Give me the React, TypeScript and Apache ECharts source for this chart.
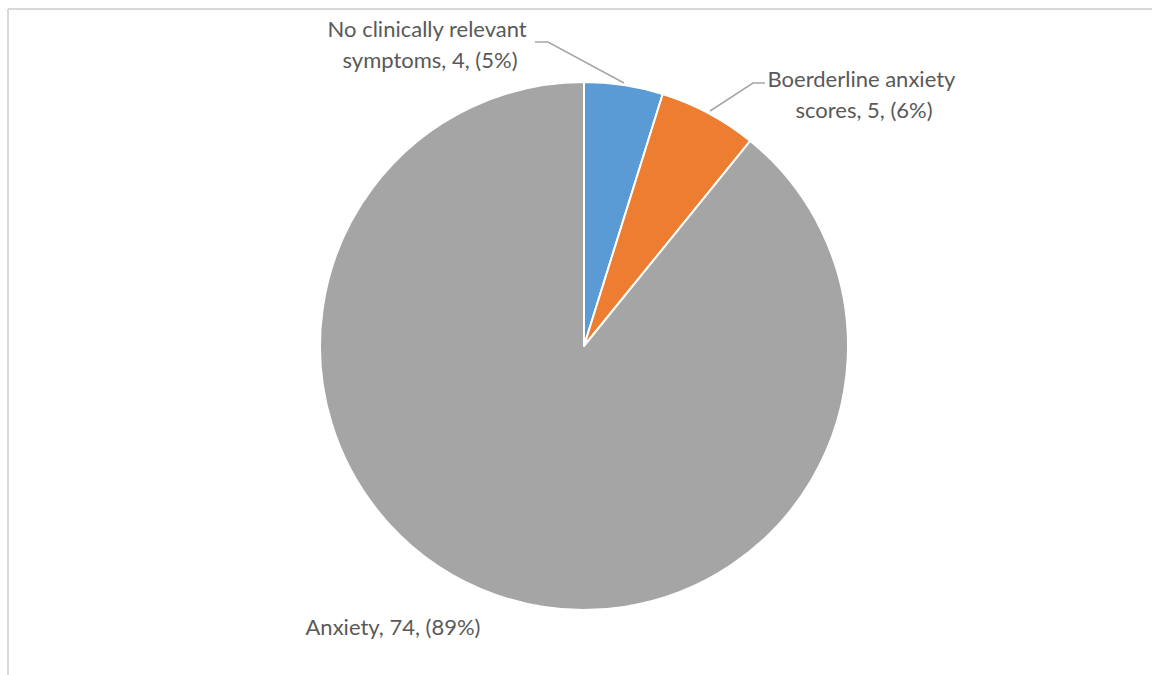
import React, { useEffect, useRef } from "react";
import * as echarts from "echarts";

const categories = ["No clinically relevant symptoms", "Boerderline anxiety scores", "Anxiety"];
const values = [4, 5, 74];
const colors = ["#5B9BD5", "#ED7D31", "#A5A5A5"];

// label anchor positions (pixels) for each slice's label
const labelPos = [
  { x: 430, y: 44 },
  { x: 864, y: 94 },
  { x: 393, y: 626 },
];

export default function App() {
  const ref = useRef<HTMLDivElement>(null);
  useEffect(() => {
    if (!ref.current) return;
    const chart = echarts.init(ref.current, undefined, { renderer: "svg" });
    const textColor = "#595959";
    const leader = "#A6A6A6";
    chart.setOption({
      animation: false,
      backgroundColor: "#ffffff",
      graphic: [
        { type: "line", shape: { x1: 8, y1: 9, x2: 1152, y2: 9 }, style: { stroke: "#D9D9D9", lineWidth: 2 } },
        { type: "line", shape: { x1: 8, y1: 9, x2: 8, y2: 675 }, style: { stroke: "#D9D9D9", lineWidth: 2 } },
        {
          type: "polyline",
          shape: { points: [[535, 42], [548, 42], [624, 83]] },
          style: { stroke: leader, lineWidth: 1.5, fill: "none" },
          z: 10,
        },
        {
          type: "polyline",
          shape: { points: [[710, 111], [753, 83], [765, 83]] },
          style: { stroke: leader, lineWidth: 1.5, fill: "none" },
          z: 10,
        },
      ],
      series: [
        {
          type: "pie",
          center: [584, 346],
          radius: 264,
          startAngle: 90,
          clockwise: true,
          silent: true,
          emphasis: { disabled: true },
          itemStyle: { borderColor: "#ffffff", borderWidth: 2 },
          labelLine: { show: false },
          label: {
            show: true,
            position: "outside",
            color: textColor,
            fontFamily: "Lato",
            fontSize: 22,
            lineHeight: 31,
            width: 228,
            overflow: "break",
            align: "center",
            formatter: (p: any) => `${p.name}, ${p.value}, (${Math.round(p.percent)}%)`,
          },
          labelLayout: (params: any) => {
            const pos = labelPos[params.dataIndex];
            return { x: pos.x, y: pos.y, align: "center", verticalAlign: "middle" };
          },
          data: categories.map((name, i) => ({
            name,
            value: values[i],
            itemStyle: { color: colors[i] },
          })),
        },
      ],
    });
    return () => chart.dispose();
  }, []);
  return (
    <div
      ref={ref}
      style={{ position: "fixed", left: 0, top: 0, width: 1152, height: 675 }}
    />
  );
}
